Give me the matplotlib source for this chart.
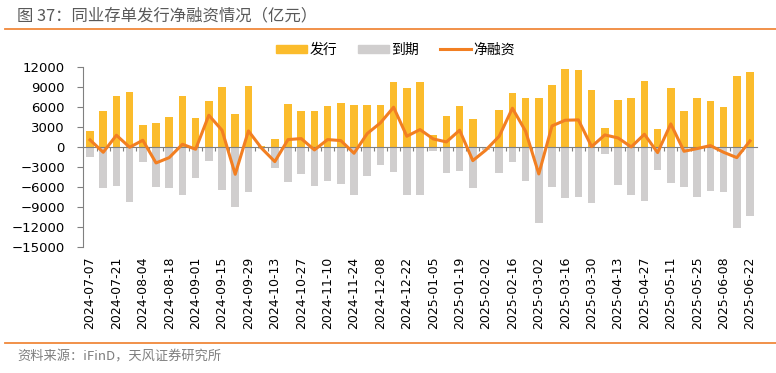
import numpy as np
import pandas as pd
import matplotlib
matplotlib.use("Agg")
import matplotlib.pyplot as plt
from matplotlib.lines import Line2D
from matplotlib.patches import Patch

plt.rcParams['font.family'] = ['Noto Sans CJK SC', 'DejaVu Sans']

# weekly data, 亿元
weeks = pd.date_range('2024-07-07', periods=51, freq='7D').strftime('%Y-%m-%d').tolist()

issue = [2400, 5350, 7600, 8150, 3250, 3600, 4500, 7550, 4250, 6850,
         8900, 4900, 9150, 100, 1100, 6350, 5300, 5300, 6150, 6500,
         6200, 6300, 6200, 9750, 8850, 9750, 1700, 4650, 6100, 4100,
         0, 5500, 8100, 7300, 7350, 9250, 11700, 11500, 8500, 2850,
         7000, 7250, 9900, 2600, 8750, 5300, 7300, 6850, 6000, 10600, 11200]

maturity = [-1500, -6250, -5850, -8250, -2350, -6050, -6150, -7200, -4650, -2150,
            -6450, -9100, -6850, -350, -3250, -5350, -4150, -5850, -5100, -5600,
            -7200, -4400, -2700, -3850, -7300, -7200, -600, -4000, -3700, -6200,
            -500, -3900, -2350, -5150, -11400, -6100, -7750, -7500, -8500, -1150,
            -5750, -7300, -8100, -3500, -5400, -6000, -7550, -6700, -6850, -12250, -10400]

net = [1000, -850, 1700, -100, 950, -2450, -1650, 350, -400, 4700,
       2450, -4150, 2350, -250, -2250, 1050, 1200, -500, 1050, 900,
       -1000, 1950, 3550, 5900, 1550, 2550, 1150, 700, 2450, -2100,
       -500, 1550, 5750, 2300, -4100, 3100, 3950, 4000, 0, 1750,
       1300, -50, 1850, -900, 3400, -700, -300, 150, -850, -1650, 850]

yellow = '#FBBC2C'
grey = '#D0CECE'
orange = '#F27F22'
axis_grey = '#808080'

fig = plt.figure(figsize=(7.76, 3.73), dpi=100)
ax = fig.add_axes([0.107, 0.3386, 0.8685, 0.4831])

x = np.arange(len(weeks))
ax.bar(x, issue, width=0.58, color=yellow, zorder=2)
ax.bar(x, maturity, width=0.58, color=grey, zorder=2)
ax.plot(x, net, color=orange, lw=2.2, zorder=3)

ax.set_xlim(-0.53, len(weeks) - 0.47)
ax.set_ylim(-15000, 12000)
ax.set_yticks(np.arange(-15000, 12001, 3000))
ax.tick_params(axis='y', direction='out', length=4, color=axis_grey, labelsize=9.5, pad=9)
for t in ax.get_yticklabels():
    t.set_family('DejaVu Sans')

# zero line with tick marks between categories
ax.spines['bottom'].set_position(('data', 0))
ax.spines['bottom'].set_color(axis_grey)
ax.set_xticks(x[:-1] + 0.5)
ax.tick_params(axis='x', direction='out', length=3, color=axis_grey, labelbottom=False)
for s in ['top', 'right']:
    ax.spines[s].set_visible(False)
ax.spines['left'].set_color(axis_grey)

# date labels at the bottom of the axes
sec = ax.secondary_xaxis(0.0)
sec.set_xticks(x[::2])
sec.set_xticklabels(weeks[::2], rotation=90, fontsize=9, family='DejaVu Sans')
sec.tick_params(length=0, pad=7)
sec.spines['bottom'].set_visible(False)

handles = [Patch(color=yellow), Patch(color=grey), Line2D([], [], color=orange, lw=2.2)]
fig.legend(handles, ['发行', '到期', '净融资'], loc='center', bbox_to_anchor=(0.51, 0.866),
           ncol=3, frameon=False, fontsize=10, handlelength=2.2, handleheight=0.6,
           handletextpad=0.2, columnspacing=1.5)

fig.text(0.022, 0.958, '图 37：同业存单发行净融资情况（亿元）', fontsize=11.8,
         color='#595959', va='center', ha='left')
fig.add_artist(Line2D([0.006, 1.0], [0.922, 0.922], color='#F0883A', lw=1.3))
fig.add_artist(Line2D([0.006, 1.0], [0.080, 0.080], color='#F0883A', lw=1.3))
fig.text(0.022, 0.043, '资料来源：iFinD，天风证券研究所', fontsize=9.5,
         color='#7F7F7F', va='center', ha='left')

fig.savefig('out.png', dpi=100)
